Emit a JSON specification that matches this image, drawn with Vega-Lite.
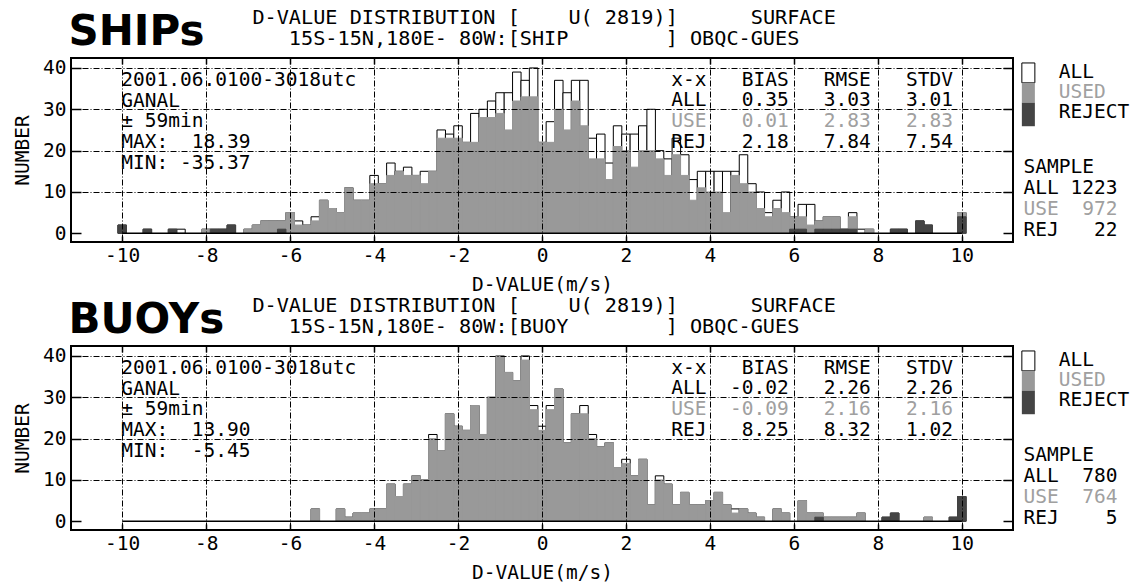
{
 "$schema": "https://vega.github.io/schema/vega-lite/v6.json",
 "background": "white",
 "padding": {"left": 11, "top": 7, "right": 0, "bottom": 0},
 "config": {
  "view": {"stroke": "black", "strokeWidth": 2},
  "text": {"font": "DejaVu Sans Mono", "fontSize": 19.5, "color": "black"},
  "axis": {"domain": false, "gridColor": "black", "gridDash": [6, 2, 1, 2], "gridWidth": 1, "tickColor": "black", "tickWidth": 1.5,
   "labelFont": "DejaVu Sans Mono", "labelFontSize": 19.5, "labelColor": "black", "labelFlush": false, "labelOverlap": false, "labelBound": false,
   "titleFont": "DejaVu Sans Mono", "titleFontSize": 19.5, "titleFontWeight": "normal", "titleColor": "black"}
 },
 "datasets": {
  "ship": [
   {"v":-10,"a":2,"u":0,"r":2},{"v":-9.4,"a":1,"u":0,"r":1},{"v":-8.8,"a":1,"u":0,"r":1},{"v":-8.6,"a":1,"u":0,"r":0},
   {"v":-8.0,"a":1,"u":1,"r":0},{"v":-7.8,"a":1,"u":0,"r":1},{"v":-7.6,"a":1,"u":0,"r":1},{"v":-7.4,"a":2,"u":0,"r":2},
   {"v":-7.0,"a":1,"u":1,"r":0},{"v":-6.8,"a":2,"u":2,"r":0},{"v":-6.6,"a":3,"u":3,"r":0},{"v":-6.4,"a":3,"u":3,"r":0},
   {"v":-6.2,"a":3,"u":3,"r":1},{"v":-6.0,"a":5,"u":5,"r":0},{"v":-5.8,"a":3,"u":2,"r":0},{"v":-5.6,"a":2,"u":2,"r":0},
   {"v":-5.4,"a":4,"u":3,"r":0},{"v":-5.2,"a":8,"u":8,"r":0},{"v":-5.0,"a":6,"u":6,"r":0},{"v":-4.8,"a":5,"u":5,"r":0},
   {"v":-4.6,"a":11,"u":11,"r":0},{"v":-4.4,"a":8,"u":8,"r":0},{"v":-4.2,"a":8,"u":8,"r":0},{"v":-4.0,"a":14,"u":12,"r":0},
   {"v":-3.8,"a":12,"u":12,"r":0},{"v":-3.6,"a":17,"u":14,"r":0},{"v":-3.4,"a":15,"u":15,"r":0},{"v":-3.2,"a":16,"u":14,"r":0},
   {"v":-3.0,"a":14,"u":14,"r":0},{"v":-2.8,"a":15,"u":12,"r":0},{"v":-2.6,"a":15,"u":15,"r":0},{"v":-2.4,"a":25,"u":23,"r":0},
   {"v":-2.2,"a":24,"u":23,"r":0},{"v":-2.0,"a":26,"u":23,"r":0},{"v":-1.8,"a":22,"u":22,"r":0},{"v":-1.6,"a":29,"u":22,"r":0},
   {"v":-1.4,"a":30,"u":28,"r":0},{"v":-1.2,"a":32,"u":28,"r":0},{"v":-1.0,"a":34,"u":29,"r":0},{"v":-0.8,"a":34,"u":25,"r":0},
   {"v":-0.6,"a":39,"u":32,"r":0},{"v":-0.4,"a":37,"u":33,"r":0},{"v":-0.2,"a":40,"u":33,"r":0},{"v":0,"a":22,"u":22,"r":0},
   {"v":0.2,"a":27,"u":22,"r":0},{"v":0.4,"a":37,"u":30,"r":0},{"v":0.6,"a":34,"u":25,"r":0},{"v":0.8,"a":37,"u":32,"r":0},
   {"v":1.0,"a":37,"u":26,"r":0},{"v":1.2,"a":23,"u":18,"r":0},{"v":1.4,"a":24,"u":18,"r":0},{"v":1.6,"a":17,"u":13,"r":0},
   {"v":1.8,"a":26,"u":21,"r":0},{"v":2.0,"a":24,"u":20,"r":0},{"v":2.2,"a":24,"u":16,"r":0},{"v":2.4,"a":26,"u":20,"r":0},
   {"v":2.6,"a":30,"u":20,"r":0},{"v":2.8,"a":20,"u":18,"r":0},{"v":3.0,"a":18,"u":14,"r":0},{"v":3.2,"a":23,"u":19,"r":0},
   {"v":3.4,"a":19,"u":14,"r":0},{"v":3.6,"a":13,"u":8,"r":0},{"v":3.8,"a":15,"u":11,"r":0},{"v":4.0,"a":15,"u":10,"r":0},
   {"v":4.2,"a":15,"u":10,"r":0},{"v":4.4,"a":15,"u":5,"r":0},{"v":4.6,"a":15,"u":14,"r":0},{"v":4.8,"a":19,"u":12,"r":0},
   {"v":5.0,"a":12,"u":10,"r":0},{"v":5.2,"a":10,"u":6,"r":0},{"v":5.4,"a":5,"u":4,"r":0},{"v":5.6,"a":8,"u":6,"r":0},
   {"v":5.8,"a":10,"u":5,"r":0},{"v":6.0,"a":4,"u":4,"r":1},{"v":6.2,"a":7,"u":4,"r":1},{"v":6.4,"a":7,"u":2,"r":0},
   {"v":6.6,"a":3,"u":3,"r":1},{"v":6.8,"a":4,"u":4,"r":1},{"v":7.0,"a":4,"u":4,"r":1},{"v":7.2,"a":1,"u":0,"r":1},
   {"v":7.4,"a":5,"u":4,"r":1},{"v":7.6,"a":1,"u":0,"r":0},{"v":7.8,"a":1,"u":1,"r":0},{"v":8.4,"a":1,"u":0,"r":1},
   {"v":8.6,"a":1,"u":0,"r":1},{"v":9.0,"a":3,"u":0,"r":3},{"v":9.2,"a":2,"u":0,"r":2},{"v":10,"a":5,"u":5,"r":4}
  ],
  "buoy": [
   {"v":-5.4,"a":3,"u":3,"r":0},{"v":-4.8,"a":3,"u":3,"r":0},{"v":-4.6,"a":1,"u":1,"r":0},{"v":-4.4,"a":2,"u":2,"r":0},
   {"v":-4.2,"a":2,"u":2,"r":0},{"v":-4.0,"a":3,"u":3,"r":0},{"v":-3.8,"a":3,"u":3,"r":0},{"v":-3.6,"a":9,"u":9,"r":0},
   {"v":-3.4,"a":6,"u":6,"r":0},{"v":-3.2,"a":9,"u":9,"r":0},{"v":-3.0,"a":11,"u":11,"r":0},{"v":-2.8,"a":10,"u":10,"r":0},
   {"v":-2.6,"a":21,"u":20,"r":0},{"v":-2.4,"a":17,"u":17,"r":0},{"v":-2.2,"a":26,"u":26,"r":0},{"v":-2.0,"a":23,"u":23,"r":0},
   {"v":-1.8,"a":22,"u":22,"r":0},{"v":-1.6,"a":28,"u":28,"r":0},{"v":-1.4,"a":21,"u":21,"r":0},{"v":-1.2,"a":30,"u":30,"r":0},
   {"v":-1.0,"a":40,"u":40,"r":0},{"v":-0.8,"a":36,"u":36,"r":0},{"v":-0.6,"a":34,"u":34,"r":0},{"v":-0.4,"a":40,"u":39,"r":0},
   {"v":-0.2,"a":28,"u":27,"r":0},{"v":0,"a":23,"u":22,"r":0},{"v":0.2,"a":28,"u":27,"r":0},{"v":0.4,"a":32,"u":32,"r":0},
   {"v":0.6,"a":19,"u":19,"r":0},{"v":0.8,"a":26,"u":26,"r":0},{"v":1.0,"a":28,"u":26,"r":0},{"v":1.2,"a":21,"u":20,"r":0},
   {"v":1.4,"a":18,"u":18,"r":0},{"v":1.6,"a":19,"u":19,"r":0},{"v":1.8,"a":13,"u":13,"r":0},{"v":2.0,"a":15,"u":14,"r":0},
   {"v":2.2,"a":11,"u":11,"r":0},{"v":2.4,"a":15,"u":15,"r":0},{"v":2.6,"a":4,"u":4,"r":0},{"v":2.8,"a":11,"u":10,"r":0},
   {"v":3.0,"a":9,"u":9,"r":0},{"v":3.2,"a":4,"u":4,"r":0},{"v":3.4,"a":7,"u":7,"r":0},{"v":3.6,"a":4,"u":4,"r":0},
   {"v":3.8,"a":4,"u":4,"r":0},{"v":4.0,"a":5,"u":5,"r":0},{"v":4.2,"a":7,"u":7,"r":0},{"v":4.4,"a":4,"u":4,"r":0},
   {"v":4.6,"a":3,"u":2,"r":0},{"v":4.8,"a":3,"u":3,"r":0},{"v":5.0,"a":2,"u":2,"r":0},{"v":5.2,"a":1,"u":1,"r":0},
   {"v":5.6,"a":3,"u":3,"r":0},{"v":5.8,"a":2,"u":2,"r":0},{"v":6.2,"a":5,"u":5,"r":0},{"v":6.4,"a":2,"u":2,"r":0},
   {"v":6.6,"a":2,"u":2,"r":1},{"v":6.8,"a":1,"u":1,"r":0},{"v":7.0,"a":1,"u":1,"r":0},{"v":7.2,"a":1,"u":1,"r":0},
   {"v":7.4,"a":1,"u":1,"r":0},{"v":7.6,"a":2,"u":2,"r":0},{"v":8.2,"a":1,"u":0,"r":1},{"v":8.4,"a":2,"u":0,"r":2},
   {"v":9.2,"a":1,"u":1,"r":0},{"v":9.8,"a":1,"u":0,"r":1},{"v":10,"a":6,"u":0,"r":6}
  ]
 },
 "spacing": 104,
 "bounds": "flush",
 "vconcat": [
  {
   "width": 942, "height": 184,
   "resolve": {"axis": {"x": "independent", "y": "independent"}},
   "layer": [
    {"data": {"name": "ship"}, "transform": [{"filter": "datum.a > 0"}],
     "mark": {"type": "bar", "orient": "vertical", "size": 8.5, "fill": "white", "stroke": "black", "strokeWidth": 1},
     "encoding": {
      "x": {"field": "v", "type": "quantitative", "scale": {"domain": [-11.1, 11.1], "nice": false, "zero": false},
       "axis": {"orient": "bottom", "values": [-10,-8,-6,-4,-2,0,2,4,6,8,10], "labelExpr": "'' + datum.value", "grid": true, "tickSize": -6, "labelPadding": 10, "title": "D-VALUE(m/s)", "titlePadding": 11, "zindex": 1}},
      "y": {"field": "a", "type": "quantitative", "scale": {"domain": [-2.1, 42.4], "nice": false},
       "axis": {"orient": "left", "values": [0,10,20,30,40], "grid": true, "gridOpacity": {"condition": {"test": "datum.value === 0", "value": 0}, "value": 1}, "tickSize": -10, "labelPadding": 15, "title": "NUMBER", "titlePadding": 10, "zindex": 1}}
     }},
    {"data": {"name": "ship"}, "transform": [{"filter": "datum.u > 0"}],
     "mark": {"type": "bar", "orient": "vertical", "size": 8.5, "fill": "#999999", "stroke": "#999999", "strokeWidth": 1},
     "encoding": {
      "x": {"field": "v", "type": "quantitative", "axis": {"orient": "top", "values": [-10,-8,-6,-4,-2,0,2,4,6,8,10], "labels": false, "grid": false, "tickSize": -6, "title": null, "zindex": 1}},
      "y": {"field": "u", "type": "quantitative", "axis": {"orient": "right", "values": [0,10,20,30,40], "labels": false, "grid": false, "tickSize": -10, "title": null, "zindex": 1}}
     }},
    {"data": {"name": "ship"}, "transform": [{"filter": "datum.r > 0"}],
     "mark": {"type": "bar", "orient": "vertical", "size": 8.5, "fill": "#444444", "stroke": "#444444", "strokeWidth": 1},
     "encoding": {
      "x": {"field": "v", "type": "quantitative", "axis": null},
      "y": {"field": "r", "type": "quantitative", "axis": null}
     }},
    {"data": {"values": [{}]}, "mark": {"type": "rule", "color": "black", "strokeWidth": 1.5},
     "encoding": {"x": {"datum": -10, "axis": null}, "x2": {"datum": 10}, "y": {"datum": 0, "axis": null}}},
    {"data": {"values": [{}]}, "mark": {"type": "text", "align": "left", "baseline": "alphabetic", "font": "DejaVu Sans", "fontSize": 42, "fontWeight": "bold"},
     "encoding": {"x": {"datum": -11.28, "axis": null}, "y": {"datum": 45.65, "axis": null}, "text": {"value": "SHIPs"}}},
    {"data": {"values": [{}]}, "mark": {"type": "text", "align": "center", "baseline": "top", "lineBreak": "\n", "lineHeight": 21, "fontSize": 20.2},
     "encoding": {"x": {"datum": 0.05, "axis": null}, "y": {"datum": 54.4, "axis": null}, "text": {"value": "D-VALUE DISTRIBUTION [\u00a0\u00a0\u00a0\u00a0U(\u00a02819)]\u00a0\u00a0\u00a0\u00a0\u00a0\u00a0SURFACE\n15S-15N,180E-\u00a080W:[SHIP\u00a0\u00a0\u00a0\u00a0\u00a0\u00a0\u00a0\u00a0]\u00a0OBQC-GUES"}}},
    {"data": {"values": [{}]}, "mark": {"type": "text", "align": "left", "baseline": "top", "lineBreak": "\n", "lineHeight": 20.6},
     "encoding": {"x": {"datum": -10.02, "axis": null}, "y": {"datum": 39.2, "axis": null}, "text": {"value": "2001.06.0100-3018utc\nGANAL\n±\u00a059min\nMAX:\u00a0\u00a018.39\nMIN:\u00a0-35.37"}}},
    {"data": {"values": [{}]}, "mark": {"type": "text", "align": "right", "baseline": "top"},
     "encoding": {"x": {"datum": 9.79, "axis": null}, "y": {"datum": 39.3, "axis": null}, "text": {"value": "x-x\u00a0\u00a0\u00a0BIAS\u00a0\u00a0\u00a0RMSE\u00a0\u00a0\u00a0STDV"}}},
    {"data": {"values": [{}]}, "mark": {"type": "text", "align": "right", "baseline": "top"},
     "encoding": {"x": {"datum": 9.79, "axis": null}, "y": {"datum": 34.32, "axis": null}, "text": {"value": "ALL\u00a0\u00a0\u00a00.35\u00a0\u00a0\u00a03.03\u00a0\u00a0\u00a03.01"}}},
    {"data": {"values": [{}]}, "mark": {"type": "text", "align": "right", "baseline": "top", "color": "#a0a0a0"},
     "encoding": {"x": {"datum": 9.79, "axis": null}, "y": {"datum": 29.35, "axis": null}, "text": {"value": "USE\u00a0\u00a0\u00a00.01\u00a0\u00a0\u00a02.83\u00a0\u00a0\u00a02.83"}}},
    {"data": {"values": [{}]}, "mark": {"type": "text", "align": "right", "baseline": "top"},
     "encoding": {"x": {"datum": 9.79, "axis": null}, "y": {"datum": 24.37, "axis": null}, "text": {"value": "REJ\u00a0\u00a0\u00a02.18\u00a0\u00a0\u00a07.84\u00a0\u00a0\u00a07.54"}}},
    {"data": {"values": [{}]}, "mark": {"type": "rect", "fill": "white", "stroke": "black", "strokeWidth": 1},
     "encoding": {"x": {"datum": 11.43, "axis": null}, "x2": {"datum": 11.74}, "y": {"datum": 41.2, "axis": null}, "y2": {"datum": 36.4}}},
    {"data": {"values": [{}]}, "mark": {"type": "rect", "fill": "#999999"},
     "encoding": {"x": {"datum": 11.43, "axis": null}, "x2": {"datum": 11.74}, "y": {"datum": 36.4, "axis": null}, "y2": {"datum": 31.6}}},
    {"data": {"values": [{}]}, "mark": {"type": "rect", "fill": "#444444"},
     "encoding": {"x": {"datum": 11.43, "axis": null}, "x2": {"datum": 11.74}, "y": {"datum": 31.6, "axis": null}, "y2": {"datum": 25.9}}},
    {"data": {"values": [{}]}, "mark": {"type": "text", "align": "left", "baseline": "top"},
     "encoding": {"x": {"datum": 12.31, "axis": null}, "y": {"datum": 41.1, "axis": null}, "text": {"value": "ALL"}}},
    {"data": {"values": [{}]}, "mark": {"type": "text", "align": "left", "baseline": "top", "color": "#a0a0a0"},
     "encoding": {"x": {"datum": 12.31, "axis": null}, "y": {"datum": 36.27, "axis": null}, "text": {"value": "USED"}}},
    {"data": {"values": [{}]}, "mark": {"type": "text", "align": "left", "baseline": "top"},
     "encoding": {"x": {"datum": 12.31, "axis": null}, "y": {"datum": 31.44, "axis": null}, "text": {"value": "REJECT"}}},
    {"data": {"values": [{}]}, "mark": {"type": "text", "align": "left", "baseline": "top", "lineBreak": "\n", "lineHeight": 21},
     "encoding": {"x": {"datum": 11.47, "axis": null}, "y": {"datum": 18.2, "axis": null}, "text": {"value": "SAMPLE\nALL\u00a01223"}}},
    {"data": {"values": [{}]}, "mark": {"type": "text", "align": "left", "baseline": "top", "color": "#a0a0a0"},
     "encoding": {"x": {"datum": 11.47, "axis": null}, "y": {"datum": 8.06, "axis": null}, "text": {"value": "USE\u00a0\u00a0972"}}},
    {"data": {"values": [{}]}, "mark": {"type": "text", "align": "left", "baseline": "top"},
     "encoding": {"x": {"datum": 11.47, "axis": null}, "y": {"datum": 2.99, "axis": null}, "text": {"value": "REJ\u00a0\u00a0\u00a022"}}}
   ]
  },
  {
   "width": 942, "height": 184,
   "resolve": {"axis": {"x": "independent", "y": "independent"}},
   "layer": [
    {"data": {"name": "buoy"}, "transform": [{"filter": "datum.a > 0"}],
     "mark": {"type": "bar", "orient": "vertical", "size": 8.5, "fill": "white", "stroke": "black", "strokeWidth": 1},
     "encoding": {
      "x": {"field": "v", "type": "quantitative", "scale": {"domain": [-11.1, 11.1], "nice": false, "zero": false},
       "axis": {"orient": "bottom", "values": [-10,-8,-6,-4,-2,0,2,4,6,8,10], "labelExpr": "'' + datum.value", "grid": true, "tickSize": -6, "labelPadding": 10, "title": "D-VALUE(m/s)", "titlePadding": 11, "zindex": 1}},
      "y": {"field": "a", "type": "quantitative", "scale": {"domain": [-2.1, 42.4], "nice": false},
       "axis": {"orient": "left", "values": [0,10,20,30,40], "grid": true, "gridOpacity": {"condition": {"test": "datum.value === 0", "value": 0}, "value": 1}, "tickSize": -10, "labelPadding": 15, "title": "NUMBER", "titlePadding": 10, "zindex": 1}}
     }},
    {"data": {"name": "buoy"}, "transform": [{"filter": "datum.u > 0"}],
     "mark": {"type": "bar", "orient": "vertical", "size": 8.5, "fill": "#999999", "stroke": "#999999", "strokeWidth": 1},
     "encoding": {
      "x": {"field": "v", "type": "quantitative", "axis": {"orient": "top", "values": [-10,-8,-6,-4,-2,0,2,4,6,8,10], "labels": false, "grid": false, "tickSize": -6, "title": null, "zindex": 1}},
      "y": {"field": "u", "type": "quantitative", "axis": {"orient": "right", "values": [0,10,20,30,40], "labels": false, "grid": false, "tickSize": -10, "title": null, "zindex": 1}}
     }},
    {"data": {"name": "buoy"}, "transform": [{"filter": "datum.r > 0"}],
     "mark": {"type": "bar", "orient": "vertical", "size": 8.5, "fill": "#444444", "stroke": "#444444", "strokeWidth": 1},
     "encoding": {
      "x": {"field": "v", "type": "quantitative", "axis": null},
      "y": {"field": "r", "type": "quantitative", "axis": null}
     }},
    {"data": {"values": [{}]}, "mark": {"type": "rule", "color": "black", "strokeWidth": 1.5},
     "encoding": {"x": {"datum": -10, "axis": null}, "x2": {"datum": 10}, "y": {"datum": 0, "axis": null}}},
    {"data": {"values": [{}]}, "mark": {"type": "text", "align": "left", "baseline": "alphabetic", "font": "DejaVu Sans", "fontSize": 42, "fontWeight": "bold"},
     "encoding": {"x": {"datum": -11.28, "axis": null}, "y": {"datum": 45.65, "axis": null}, "text": {"value": "BUOYs"}}},
    {"data": {"values": [{}]}, "mark": {"type": "text", "align": "center", "baseline": "top", "lineBreak": "\n", "lineHeight": 21, "fontSize": 20.2},
     "encoding": {"x": {"datum": 0.05, "axis": null}, "y": {"datum": 54.4, "axis": null}, "text": {"value": "D-VALUE DISTRIBUTION [\u00a0\u00a0\u00a0\u00a0U(\u00a02819)]\u00a0\u00a0\u00a0\u00a0\u00a0\u00a0SURFACE\n15S-15N,180E-\u00a080W:[BUOY\u00a0\u00a0\u00a0\u00a0\u00a0\u00a0\u00a0\u00a0]\u00a0OBQC-GUES"}}},
    {"data": {"values": [{}]}, "mark": {"type": "text", "align": "left", "baseline": "top", "lineBreak": "\n", "lineHeight": 20.6},
     "encoding": {"x": {"datum": -10.02, "axis": null}, "y": {"datum": 39.2, "axis": null}, "text": {"value": "2001.06.0100-3018utc\nGANAL\n±\u00a059min\nMAX:\u00a0\u00a013.90\nMIN:\u00a0\u00a0-5.45"}}},
    {"data": {"values": [{}]}, "mark": {"type": "text", "align": "right", "baseline": "top"},
     "encoding": {"x": {"datum": 9.79, "axis": null}, "y": {"datum": 39.3, "axis": null}, "text": {"value": "x-x\u00a0\u00a0\u00a0BIAS\u00a0\u00a0\u00a0RMSE\u00a0\u00a0\u00a0STDV"}}},
    {"data": {"values": [{}]}, "mark": {"type": "text", "align": "right", "baseline": "top"},
     "encoding": {"x": {"datum": 9.79, "axis": null}, "y": {"datum": 34.32, "axis": null}, "text": {"value": "ALL\u00a0\u00a0-0.02\u00a0\u00a0\u00a02.26\u00a0\u00a0\u00a02.26"}}},
    {"data": {"values": [{}]}, "mark": {"type": "text", "align": "right", "baseline": "top", "color": "#a0a0a0"},
     "encoding": {"x": {"datum": 9.79, "axis": null}, "y": {"datum": 29.35, "axis": null}, "text": {"value": "USE\u00a0\u00a0-0.09\u00a0\u00a0\u00a02.16\u00a0\u00a0\u00a02.16"}}},
    {"data": {"values": [{}]}, "mark": {"type": "text", "align": "right", "baseline": "top"},
     "encoding": {"x": {"datum": 9.79, "axis": null}, "y": {"datum": 24.37, "axis": null}, "text": {"value": "REJ\u00a0\u00a0\u00a08.25\u00a0\u00a0\u00a08.32\u00a0\u00a0\u00a01.02"}}},
    {"data": {"values": [{}]}, "mark": {"type": "rect", "fill": "white", "stroke": "black", "strokeWidth": 1},
     "encoding": {"x": {"datum": 11.43, "axis": null}, "x2": {"datum": 11.74}, "y": {"datum": 41.2, "axis": null}, "y2": {"datum": 36.4}}},
    {"data": {"values": [{}]}, "mark": {"type": "rect", "fill": "#999999"},
     "encoding": {"x": {"datum": 11.43, "axis": null}, "x2": {"datum": 11.74}, "y": {"datum": 36.4, "axis": null}, "y2": {"datum": 31.6}}},
    {"data": {"values": [{}]}, "mark": {"type": "rect", "fill": "#444444"},
     "encoding": {"x": {"datum": 11.43, "axis": null}, "x2": {"datum": 11.74}, "y": {"datum": 31.6, "axis": null}, "y2": {"datum": 25.9}}},
    {"data": {"values": [{}]}, "mark": {"type": "text", "align": "left", "baseline": "top"},
     "encoding": {"x": {"datum": 12.31, "axis": null}, "y": {"datum": 41.1, "axis": null}, "text": {"value": "ALL"}}},
    {"data": {"values": [{}]}, "mark": {"type": "text", "align": "left", "baseline": "top", "color": "#a0a0a0"},
     "encoding": {"x": {"datum": 12.31, "axis": null}, "y": {"datum": 36.27, "axis": null}, "text": {"value": "USED"}}},
    {"data": {"values": [{}]}, "mark": {"type": "text", "align": "left", "baseline": "top"},
     "encoding": {"x": {"datum": 12.31, "axis": null}, "y": {"datum": 31.44, "axis": null}, "text": {"value": "REJECT"}}},
    {"data": {"values": [{}]}, "mark": {"type": "text", "align": "left", "baseline": "top", "lineBreak": "\n", "lineHeight": 21},
     "encoding": {"x": {"datum": 11.47, "axis": null}, "y": {"datum": 18.2, "axis": null}, "text": {"value": "SAMPLE\nALL\u00a0\u00a0780"}}},
    {"data": {"values": [{}]}, "mark": {"type": "text", "align": "left", "baseline": "top", "color": "#a0a0a0"},
     "encoding": {"x": {"datum": 11.47, "axis": null}, "y": {"datum": 8.06, "axis": null}, "text": {"value": "USE\u00a0\u00a0764"}}},
    {"data": {"values": [{}]}, "mark": {"type": "text", "align": "left", "baseline": "top"},
     "encoding": {"x": {"datum": 11.47, "axis": null}, "y": {"datum": 2.99, "axis": null}, "text": {"value": "REJ\u00a0\u00a0\u00a0\u00a05"}}}
   ]
  }
 ]
}
